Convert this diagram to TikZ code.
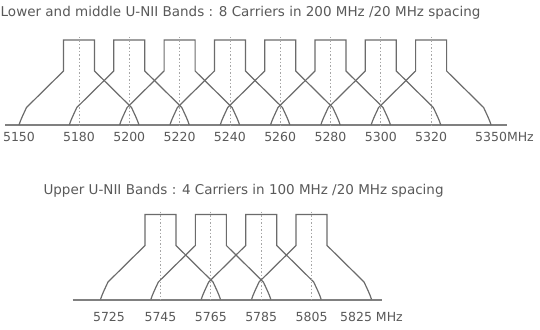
\documentclass[tikz,border=0pt]{standalone}
\usepackage{fontspec}
\setmainfont{DejaVu Sans}
\newcommand\umask[2]{%
  \draw[maskline] (#1-60,#2) .. controls (#1-58.5,#2-5) and (#1-55.5,#2-11) .. (#1-52.5,#2-17.5)
    -- (#1-15.5,#2-54) -- (#1-15.5,#2-85) -- (#1+15.5,#2-85) -- (#1+15.5,#2-54)
    -- (#1+52.5,#2-17.5) .. controls (#1+55.5,#2-11) and (#1+58.5,#2-5) .. (#1+60,#2);
  \draw[centerline] (#1,#2-88) -- (#1,#2);
}
\begin{document}
\begin{tikzpicture}[x=1pt,y=-1pt,
  maskline/.style={draw=black!58, line width=1.2pt, line join=miter},
  centerline/.style={draw=black!35, line width=0.8pt, dash pattern=on 1.5pt off 2pt},
  axisline/.style={draw=black!50, line width=2pt},
  lbl/.style={inner sep=0pt, text=black!65, font=\fontsize{12.5}{14}\selectfont},
  ttl/.style={inner sep=0pt, text=black!65, font=\fontsize{13.5}{15}\selectfont, anchor=base west}]
\useasboundingbox (0,0) rectangle (540,329);
% titles
\node[ttl] (t1) at (0.5,17) {Lower and middle U-NII Bands : 8 Carriers in 200 MHz /20 MHz spacing};
\node[ttl] (t2) at (43.3,194.5) {Upper U-NII Bands : 4 Carriers in 100 MHz /20 MHz spacing};
% axes
\coordinate (a1s) at (5,125);
\coordinate (a1e) at (506.7,125);
\coordinate (a2s) at (72.7,299.5);
\coordinate (a2e) at (382,299.5);
\draw[axisline] (a1s) -- (a1e);
\draw[axisline] (a2s) -- (a2e);
% masks
\foreach \i in {0,...,7} { \umask{79+50.3*\i}{125} }
\foreach \i in {0,...,3} { \umask{160.5+50.35*\i}{299.5} }
% labels upper
\node[lbl, anchor=base] (l5150) at (19,141) {5150};
\foreach \t [count=\i from 0] in {5180,5200,5220,5240,5260,5280,5300,5320}
  \node[lbl, anchor=base] (lt\i) at (79+50.3*\i,141) {\t};
\node[lbl, anchor=base west] (l5350) at (475,141) {5350MHz};
% labels lower
\node[lbl, anchor=base] (l5725) at (109,321.5) {5725};
\foreach \t [count=\i from 0] in {5745,5765,5785,5805}
  \node[lbl, anchor=base] (lb\i) at (160.5+50.35*\i,321.5) {\t};
\node[lbl, anchor=base west] (l5825) at (340,321.5) {5825 MHz};
\end{tikzpicture}
\end{document}
